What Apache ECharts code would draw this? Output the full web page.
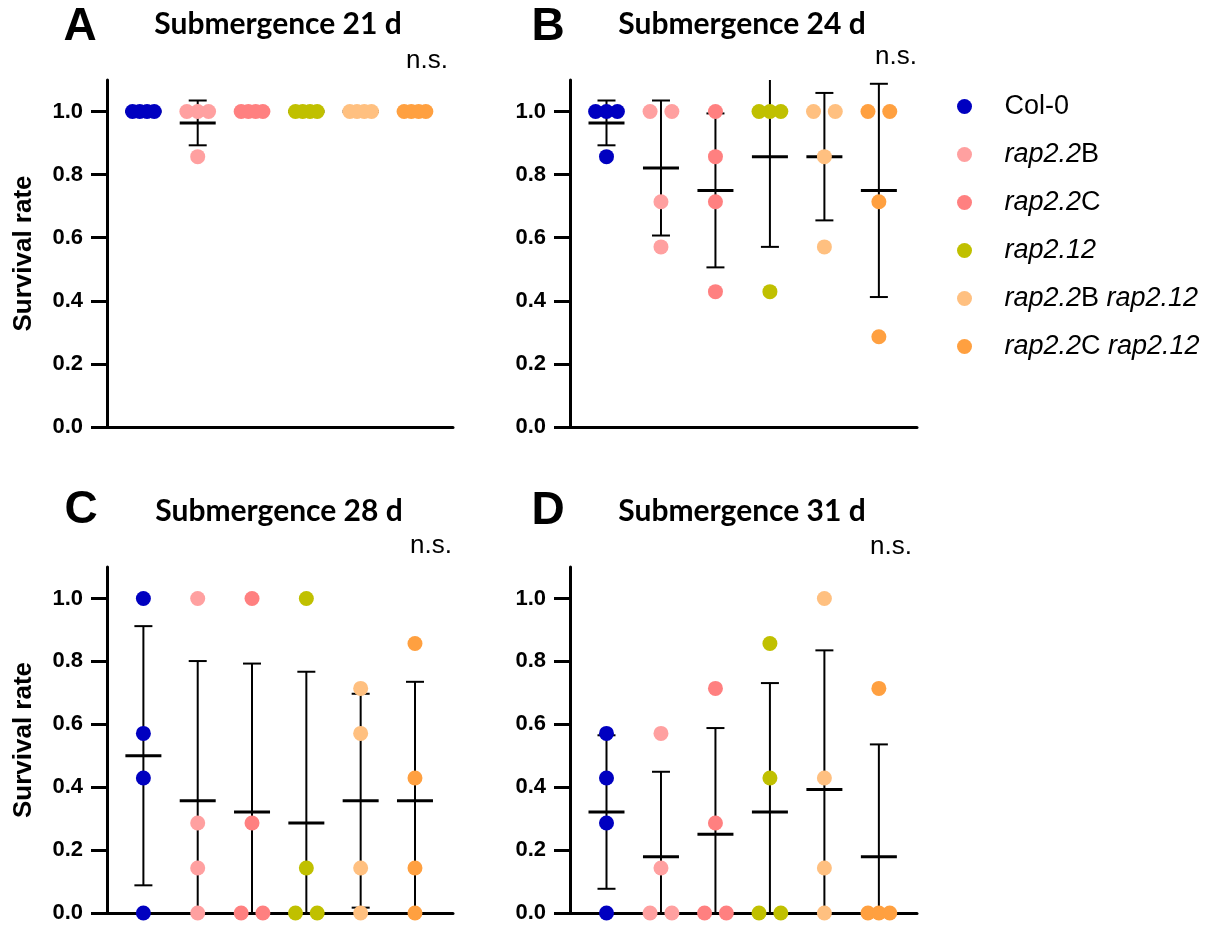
<!DOCTYPE html>
<html>
<head>
<meta charset="utf-8">
<script src="https://cdn.jsdelivr.net/npm/echarts@6/dist/echarts.min.js"></script>
<style>
html, body { margin: 0; padding: 0; background: #fff; }
#chart { width: 1223px; height: 929px; }
</style>
</head>
<body>
<div id="chart"></div>
<script>
var GROUPS = ['Col-0', 'rap2.2B', 'rap2.2C', 'rap2.12', 'rap2.2B rap2.12', 'rap2.2C rap2.12'];
var GROUP_LABELS = ['{n|Col-0}', '{i|rap2.2}{n|B}', '{i|rap2.2}{n|C}', '{i|rap2.12}',
    '{i|rap2.2}{n|B}{i| rap2.12}', '{i|rap2.2}{n|C}{i| rap2.12}'];
var COLORS = ['#0000c0', '#ffa0a0', '#ff8080', '#c0c000', '#ffc080', '#ffa040'];
var Y_TICKS = [0, 0.2, 0.4, 0.6, 0.8, 1.0];
var Y_MAX = 1.1;
var PANEL_LETTERS = ['A', 'B', 'C', 'D'];
var PANEL_TITLES = ['Submergence 21 d', 'Submergence 24 d', 'Submergence 28 d', 'Submergence 31 d'];

// survival rate of each replicate, per genotype
var day21_values = [[1, 1, 1, 1], [1, 1, 1, 0.857], [1, 1, 1, 1], [1, 1, 1, 1], [1, 1, 1, 1], [1, 1, 1, 1]];
var day24_values = [[1, 1, 1, 0.857], [1, 1, 0.714, 0.571], [1, 0.857, 0.714, 0.429], [1, 1, 1, 0.429], [1, 1, 0.857, 0.571], [1, 1, 0.714, 0.286]];
var day28_values = [[1, 0.571, 0.429, 0], [1, 0.286, 0.143, 0], [1, 0.286, 0, 0], [1, 0.143, 0, 0], [0.714, 0.571, 0.143, 0], [0.857, 0.429, 0.143, 0]];
var day31_values = [[0.571, 0.429, 0.286, 0], [0.571, 0.143, 0, 0], [0.714, 0.286, 0, 0], [0.857, 0.429, 0, 0], [1, 0.429, 0.143, 0], [0.714, 0, 0, 0]];

// mean and SD as drawn
var day21_mean = [1, 0.964, 1, 1, 1, 1];
var day21_sd = [0, 0.071, 0, 0, 0, 0];
var day24_mean = [0.964, 0.821, 0.75, 0.857, 0.857, 0.75];
var day24_sd = [0.071, 0.214, 0.244, 0.286, 0.202, 0.338];
var day28_mean = [0.5, 0.357, 0.321, 0.286, 0.357, 0.357];
var day28_sd = [0.412, 0.444, 0.472, 0.481, 0.340, 0.378];
var day31_mean = [0.321, 0.179, 0.25, 0.321, 0.393, 0.179];
var day31_sd = [0.244, 0.270, 0.338, 0.410, 0.442, 0.357];

var panelValues = [day21_values, day24_values, day28_values, day31_values];
var panelMeans = [day21_mean, day24_mean, day28_mean, day31_mean];
var panelSds = [day21_sd, day24_sd, day28_sd, day31_sd];

var SANS = 'Liberation Sans';
var grids = [
    {left: 107, top: 80, width: 346, height: 347},
    {left: 570, top: 80, width: 347, height: 347},
    {left: 107, top: 567, width: 346, height: 346},
    {left: 570, top: 567, width: 347, height: 346}
];
var letterPos = [[80, 27], [548, 27], [81, 510], [548, 511]];
var titlePos = [[278, 24], [742, 24], [279, 511], [742, 511]];
var nsPos = [[448, 61], [917, 57], [452, 546], [912, 547]];

// spread of points sharing the same value (in category units)
var SPREAD = {1: [0], 2: [-0.2, 0.2], 3: [-0.2, 0, 0.2], 4: [-0.2, -0.067, 0.067, 0.2]};

function spreadPoints(vals, x) {
    var count = {}, used = {}, out = [];
    vals.forEach(function (v) { count[v] = (count[v] || 0) + 1; });
    vals.forEach(function (v) {
        var k = used[v] || 0;
        used[v] = k + 1;
        out.push([x + SPREAD[count[v]][k], v]);
    });
    return out;
}

function renderErrorBar(params, api) {
    var x = api.value(0), m = api.value(1), sd = api.value(2);
    var lo = m - sd, hi = m + sd;
    var pm = api.coord([x, m]);
    var pLo = api.coord([x, Math.max(lo, 0)]);
    var pHi = api.coord([x, Math.min(hi, Y_MAX)]);
    var thin = {stroke: '#000', lineWidth: 2};
    var children = [];
    if (sd > 0) {
        children.push({type: 'line', shape: {x1: pLo[0], y1: pLo[1], x2: pHi[0], y2: pHi[1]}, style: thin});
        if (lo >= 0) children.push({type: 'line', shape: {x1: pLo[0] - 9, y1: pLo[1], x2: pLo[0] + 9, y2: pLo[1]}, style: thin});
        if (hi <= Y_MAX) children.push({type: 'line', shape: {x1: pHi[0] - 9, y1: pHi[1], x2: pHi[0] + 9, y2: pHi[1]}, style: thin});
    }
    children.push({type: 'line', shape: {x1: pm[0] - 18, y1: pm[1], x2: pm[0] + 18, y2: pm[1]}, style: {stroke: '#000', lineWidth: 3}});
    return {type: 'group', children: children};
}

var xAxes = [], yAxes = [], series = [], graphics = [];
for (var p = 0; p < 4; p++) {
    xAxes.push({
        gridIndex: p, type: 'value', min: 0.33, max: 6.7,
        axisLine: {onZero: false, lineStyle: {color: '#000', width: 3}},
        axisTick: {show: false}, axisLabel: {show: false}, splitLine: {show: false}
    });
    yAxes.push({
        gridIndex: p, type: 'value', min: 0, max: Y_MAX,
        name: p % 2 === 0 ? 'Survival rate' : '',
        nameLocation: 'middle', nameGap: 70,
        nameTextStyle: {fontSize: 26, fontWeight: 'bold', color: '#000', fontFamily: SANS},
        axisLine: {show: true, lineStyle: {color: '#000', width: 3}},
        axisTick: {show: true, length: 16, customValues: Y_TICKS, lineStyle: {color: '#000', width: 3}},
        axisLabel: {
            customValues: Y_TICKS, margin: 24, fontSize: 22, fontWeight: 'bold', color: '#000', fontFamily: SANS,
            formatter: function (v) { return v.toFixed(1); }
        },
        splitLine: {show: false}
    });

    var errData = GROUPS.map(function (g, i) { return [i + 1, panelMeans[p][i], panelSds[p][i]]; });
    series.push({
        type: 'custom', xAxisIndex: p, yAxisIndex: p, silent: true, z: 1,
        renderItem: renderErrorBar, data: errData
    });
    for (var g = 0; g < GROUPS.length; g++) {
        series.push({
            name: GROUPS[g], type: 'scatter', xAxisIndex: p, yAxisIndex: p,
            symbol: 'circle', symbolSize: 15, clip: false, z: 3,
            itemStyle: {color: COLORS[g], opacity: 1},
            data: spreadPoints(panelValues[p][g], g + 1)
        });
    }

    graphics.push({
        type: 'text', x: letterPos[p][0], y: letterPos[p][1],
        style: {text: PANEL_LETTERS[p], fontSize: 46, fontWeight: 'bold', fontFamily: SANS, fill: '#000',
            textAlign: 'center', textVerticalAlign: 'middle', align: 'center', verticalAlign: 'middle'}
    });
    graphics.push({
        type: 'text', x: titlePos[p][0], y: titlePos[p][1],
        style: {text: PANEL_TITLES[p], fontSize: 30, fontWeight: 'bold', fontFamily: 'Lato', fill: '#000',
            textAlign: 'center', textVerticalAlign: 'middle', align: 'center', verticalAlign: 'middle'}
    });
    graphics.push({
        type: 'text', x: nsPos[p][0], y: nsPos[p][1],
        style: {text: 'n.s.', fontSize: 26, fontFamily: SANS, fill: '#000',
            textAlign: 'right', textVerticalAlign: 'middle', align: 'right', verticalAlign: 'middle'}
    });
}

var myChart = echarts.init(document.getElementById('chart'), null, {renderer: 'canvas'});
var option = {
    backgroundColor: '#fff',
    animation: false,
    grid: grids,
    xAxis: xAxes,
    yAxis: yAxes,
    legend: {
        orient: 'vertical', left: 952, top: 88,
        icon: 'circle', itemWidth: 70, itemHeight: 15, itemGap: 21,
        symbolKeepAspect: true, selectedMode: false,
        data: GROUPS,
        formatter: function (name) { return GROUP_LABELS[GROUPS.indexOf(name)]; },
        textStyle: {
            color: '#000', fontSize: 27, fontFamily: SANS,
            rich: {
                n: {fontSize: 27, fontFamily: SANS, color: '#000', lineHeight: 30},
                i: {fontSize: 27, fontFamily: SANS, fontStyle: 'italic', color: '#000', lineHeight: 30}
            }
        }
    },
    graphic: graphics,
    series: series
};
myChart.setOption(option);
</script>
</body>
</html>
